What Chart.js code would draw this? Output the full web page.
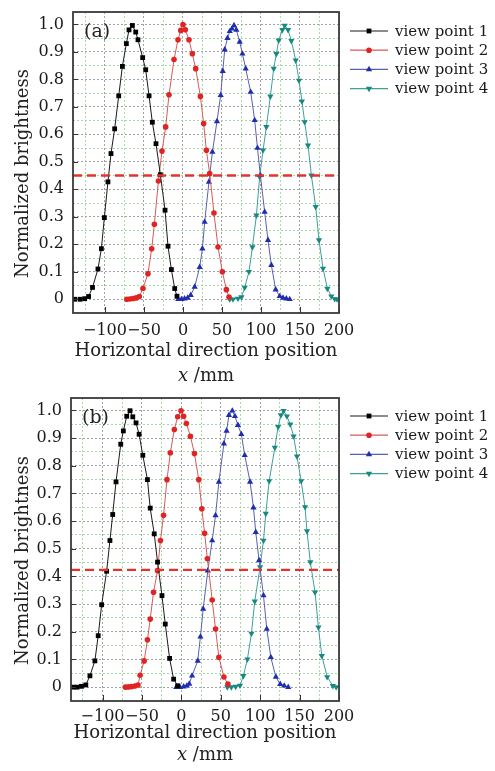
<!DOCTYPE html>
<html>
<head>
<meta charset="utf-8">
<script src="https://cdn.jsdelivr.net/npm/chart.js@4.4.0/dist/chart.umd.min.js"></script>
<style>
  html, body { margin: 0; padding: 0; background: #fff; }
  .panel { position: relative; width: 495px; }
</style>
</head>
<body>
<div class="panel" style="height:385px"><canvas id="chartA" width="495" height="385"></canvas></div>
<div class="panel" style="height:386px"><canvas id="chartB" width="495" height="386"></canvas></div>
<script>
// Brightness profiles of the four view points

const seriesNames = ['view point 1', 'view point 2', 'view point 3', 'view point 4'];
const xTickValues = [-125, -100, -75, -50, -25, 0, 25, 50, 75, 100, 125, 150, 175, 200];
const yTickValues = [0, 0.05, 0.1, 0.15, 0.2, 0.25, 0.3, 0.35, 0.4, 0.45, 0.5,
                     0.55, 0.6, 0.65, 0.7, 0.75, 0.8, 0.85, 0.9, 0.95, 1.0];

// panel (a)
const aBlackX = [-139, -132, -126, -121, -116, -109, -104.6, -100.8, -96.2, -92.3, -87.6, -82.4, -77.7, -72.6, -69.2, -64.9, -60.6, -57.7, -51.7, -47.8, -43.5, -39.3, -34.6, -29, -23, -19.2, -14.9, -10.6, -7.7];
const aBlackY = [0, 0, 0.002, 0.01, 0.043, 0.11, 0.184, 0.297, 0.427, 0.53, 0.62, 0.74, 0.847, 0.93, 0.98, 0.996, 0.972, 0.944, 0.879, 0.835, 0.74, 0.644, 0.566, 0.453, 0.324, 0.193, 0.108, 0.039, 0.011];
const aRedX = [-72, -68, -64, -60, -56, -51.3, -44.9, -40.1, -36.7, -31.5, -26.9, -22.2, -17.9, -11.5, -6.4, -2.9, 0, 3, 7.7, 12, 16.3, 22.3, 26.5, 30, 34.2, 39.7, 44.9, 50.5, 55.6, 59];
const aRedY = [0, 0.001, 0.003, 0.005, 0.01, 0.039, 0.093, 0.184, 0.273, 0.43, 0.539, 0.627, 0.744, 0.872, 0.944, 0.978, 0.999, 0.98, 0.944, 0.893, 0.839, 0.738, 0.639, 0.542, 0.457, 0.314, 0.19, 0.1, 0.035, 0.008];
const aBlueX = [-6, -2, 2, 6, 9.9, 15, 21.4, 24.9, 27.8, 33.3, 37.7, 43.6, 48.3, 51, 53.5, 57, 60, 62.8, 65.4, 68.4, 72.7, 76.2, 80.4, 86.8, 91.9, 95.5, 99.2, 104.7, 109, 113.3, 118.8, 124, 128.2, 132.5, 136.8];
const aBlueY = [0, 0, 0.002, 0.005, 0.015, 0.045, 0.117, 0.184, 0.281, 0.427, 0.536, 0.647, 0.742, 0.83, 0.908, 0.95, 0.975, 0.984, 0.996, 0.98, 0.936, 0.893, 0.839, 0.754, 0.651, 0.55, 0.451, 0.318, 0.215, 0.124, 0.035, 0.011, 0.005, 0.002, 0];
const aTealX = [59.9, 64.1, 70.5, 74.9, 79.1, 84.6, 89, 94.1, 98.3, 102.6, 106.9, 112, 116.3, 119.7, 122.7, 127.4, 130.4, 134.7, 138.9, 144.5, 148.7, 152.5, 156, 160.3, 164.6, 170.1, 174.4, 179.5, 185.1, 190.2, 194.5, 197.5];
const aTealY = [0, 0, 0.003, 0.008, 0.043, 0.1, 0.19, 0.305, 0.445, 0.542, 0.627, 0.738, 0.839, 0.893, 0.942, 0.98, 0.996, 0.98, 0.94, 0.869, 0.796, 0.72, 0.645, 0.56, 0.451, 0.336, 0.215, 0.112, 0.039, 0.011, 0.001, 0];
const aThreshold = 0.45;

// panel (b)
const bBlackX = [-137.4, -132.3, -126.7, -121.2, -116, -109.7, -105.5, -101.1, -94.8, -90.6, -87.1, -82.9, -76.9, -73.6, -69.3, -65.1, -61.6, -57.5, -53.6, -48.9, -43, -39.5, -34.4, -30.2, -24.6, -20.4, -14.9, -9.8, -4.7];
const bBlackY = [0, 0, 0.003, 0.008, 0.041, 0.095, 0.186, 0.298, 0.419, 0.53, 0.624, 0.742, 0.878, 0.926, 0.979, 0.999, 0.977, 0.955, 0.914, 0.838, 0.75, 0.647, 0.554, 0.452, 0.331, 0.228, 0.104, 0.029, 0.005];
const bRedX = [-71, -67, -63, -59, -55, -52.3, -47.2, -43, -39.5, -35.3, -30.2, -26.5, -22.6, -18.2, -14, -8.9, -4.7, -0.4, 2.9, 6.4, 11.5, 16.6, 22.1, 26, 29.5, 33, 39.1, 43.4, 47.6, 54, 59.1];
const bRedY = [0, 0.001, 0.002, 0.004, 0.008, 0.043, 0.095, 0.171, 0.246, 0.343, 0.421, 0.53, 0.621, 0.75, 0.847, 0.931, 0.977, 0.999, 0.979, 0.953, 0.907, 0.844, 0.75, 0.645, 0.556, 0.464, 0.315, 0.21, 0.108, 0.037, 0.011];
const bBlueX = [-6.4, -1.7, 3, 7, 10, 13.6, 20.8, 24.2, 27.7, 33.6, 39.1, 43.4, 47.6, 54, 57.4, 60.4, 64.7, 68, 71.8, 76.1, 80.4, 87.2, 91.5, 94.4, 98.6, 104.2, 108.4, 113.5, 119.9, 125.4, 130.5, 135.6];
const bBlueY = [0, 0, 0.002, 0.005, 0.012, 0.041, 0.095, 0.182, 0.283, 0.421, 0.53, 0.621, 0.742, 0.88, 0.926, 0.983, 0.999, 0.979, 0.947, 0.914, 0.838, 0.742, 0.649, 0.56, 0.458, 0.331, 0.21, 0.108, 0.037, 0.011, 0.005, 0];
const bTealX = [58.3, 63.4, 68.9, 74.4, 78.7, 83.8, 88.9, 93.1, 99.9, 104.2, 107.1, 111.4, 118.6, 122.8, 126.3, 129.7, 133.9, 138.1, 142.4, 146.7, 152, 156.9, 159.4, 163.6, 169.6, 173.9, 178.2, 185, 192.2, 196.4];
const bTealY = [0, 0, 0.002, 0.006, 0.041, 0.101, 0.194, 0.31, 0.434, 0.53, 0.627, 0.745, 0.866, 0.941, 0.983, 0.999, 0.979, 0.95, 0.907, 0.834, 0.745, 0.651, 0.564, 0.452, 0.343, 0.216, 0.113, 0.037, 0.005, 0];
const bThreshold = 0.424;

// estilos das séries
const pointColors = ['#000000', '#e02424', '#1f2eb0', '#168a80'];
const lineColors = ['#1a1a1a', '#d65a5a', '#5a60aa', '#3fa097'];
const pointStyles = ['rect', 'circle', 'triangle', 'triangle'];
const pointRotations = [0, 0, 0, 180];
const pointRadii = [3.4, 2.8, 3.6, 3.6];

const SERIF = '"DejaVu Serif", "Liberation Serif", serif';
const GRAY_GRID = '#a2a2a2';
const GREEN_GRID = '#a8daa8';

function isMajor(v, step) {
    const r = v / step;
    return Math.abs(r - Math.round(r)) < 1e-6;
}

function toPoints(xs, ys) {
    return xs.map((x, i) => ({ x: x, y: ys[i] }));
}

// desenha um marcador simples para a legenda
function drawMarker(ctx, style, rotation, r, x, y, color) {
    ctx.save();
    ctx.fillStyle = color;
    ctx.translate(x, y);
    ctx.rotate(rotation * Math.PI / 180);
    ctx.beginPath();
    if (style === 'rect') {
        const s = r * Math.SQRT1_2;
        ctx.rect(-s, -s, 2 * s, 2 * s);
    } else if (style === 'circle') {
        ctx.arc(0, 0, r, 0, Math.PI * 2);
    } else {
        ctx.moveTo(0, -r);
        ctx.lineTo(r * 0.87, r * 0.5);
        ctx.lineTo(-r * 0.87, r * 0.5);
        ctx.closePath();
    }
    ctx.fill();
    ctx.restore();
}

// moldura, ticks internos, títulos e legenda
const decorPlugin = {
    id: 'decor',
    afterDraw(chart, args, opts) {
        const ctx = chart.ctx;
        const area = chart.chartArea;
        const xs = chart.scales.x;
        const ys = chart.scales.y;
        ctx.save();

        // ticks para dentro
        ctx.strokeStyle = '#333';
        ctx.lineWidth = 1;
        ctx.beginPath();
        xTickValues.forEach(v => {
            if (!isMajor(v, 50)) return;
            const px = Math.round(xs.getPixelForValue(v)) + 0.5;
            ctx.moveTo(px, area.bottom);
            ctx.lineTo(px, area.bottom - 6);
        });
        yTickValues.forEach(v => {
            if (!isMajor(v, 0.1)) return;
            const py = Math.round(ys.getPixelForValue(v)) + 0.5;
            ctx.moveTo(area.left, py);
            ctx.lineTo(area.left + 5, py);
        });
        ctx.stroke();

        // moldura
        ctx.strokeStyle = '#3a3a3a';
        ctx.lineWidth = 1.8;
        ctx.strokeRect(area.left, area.top, area.right - area.left, area.bottom - area.top);

        // rótulo do painel
        ctx.fillStyle = '#222';
        ctx.font = '19px ' + SERIF;
        ctx.textAlign = 'left';
        ctx.textBaseline = 'middle';
        ctx.fillText(opts.panel, area.left + 11, area.top + 20);

        // título do eixo y
        ctx.save();
        ctx.translate(opts.yTitleX, (area.top + area.bottom) / 2 + 11);
        ctx.rotate(-Math.PI / 2);
        ctx.textAlign = 'center';
        ctx.font = '18px ' + SERIF;
        ctx.fillText('Normalized brightness', 0, 0);
        ctx.restore();

        // título do eixo x (duas linhas)
        const cx = (area.left + area.right) / 2;
        ctx.textAlign = 'center';
        ctx.font = '18px ' + SERIF;
        ctx.fillText('Horizontal direction position', cx, area.bottom + opts.xTitle1);
        ctx.font = 'italic 18px ' + SERIF;
        const wItal = ctx.measureText('x').width;
        ctx.font = '18px ' + SERIF;
        const wRest = ctx.measureText(' /mm').width;
        const start = cx - (wItal + wRest) / 2;
        ctx.textAlign = 'left';
        ctx.font = 'italic 18px ' + SERIF;
        ctx.fillText('x', start, area.bottom + opts.xTitle2);
        ctx.font = '18px ' + SERIF;
        ctx.fillText(' /mm', start + wItal, area.bottom + opts.xTitle2);

        // legenda
        ctx.font = '15px ' + SERIF;
        seriesNames.forEach((name, i) => {
            const y = 31 + i * 19.2;
            ctx.strokeStyle = lineColors[i];
            ctx.lineWidth = 1.2;
            ctx.beginPath();
            ctx.moveTo(350, y);
            ctx.lineTo(388, y);
            ctx.stroke();
            drawMarker(ctx, pointStyles[i], pointRotations[i], pointRadii[i], 369, y, pointColors[i]);
            ctx.fillStyle = '#1a1a1a';
            ctx.textAlign = 'left';
            ctx.fillText(name, 395, y + 1);
        });
        ctx.restore();
    }
};

function makeChart(canvasId, xsList, ysList, threshold, geo) {
    const canvas = document.getElementById(canvasId);
    if (!canvas) {
        console.error('Canvas not found: ' + canvasId);
        return null;
    }
    const datasets = seriesNames.map((name, i) => ({
        label: name,
        data: toPoints(xsList[i], ysList[i]),
        borderColor: lineColors[i],
        borderWidth: 1,
        backgroundColor: pointColors[i],
        pointBackgroundColor: pointColors[i],
        pointBorderWidth: 0,
        pointStyle: pointStyles[i],
        pointRotation: pointRotations[i],
        pointRadius: pointRadii[i],
        tension: 0,
        order: 2
    }));
    // linha tracejada de limiar
    datasets.push({
        label: 'threshold',
        data: [{ x: geo.xMin, y: threshold }, { x: 200, y: threshold }],
        borderColor: '#e3342c',
        borderWidth: 2.4,
        borderDash: [9, 5],
        pointRadius: 0,
        order: 1
    });

    return new Chart(canvas.getContext('2d'), {
        type: 'line',
        data: { datasets: datasets },
        options: {
            responsive: false,
            animation: false,
            layout: { padding: { top: geo.top, right: 495 - geo.right, left: 0, bottom: 0 } },
            plugins: {
                legend: { display: false },
                tooltip: { enabled: false },
                decor: { panel: geo.panel, yTitleX: 23, xTitle1: geo.xTitle1, xTitle2: geo.xTitle2 }
            },
            scales: {
                x: {
                    type: 'linear',
                    min: geo.xMin,
                    max: 200,
                    afterBuildTicks: s => { s.ticks = xTickValues.map(v => ({ value: v })); },
                    afterFit: s => {
                        s.height = geo.height - geo.bottom;
                        s.paddingLeft = 0;
                        s.paddingRight = 0;
                    },
                    grid: {
                        drawTicks: false,
                        lineWidth: 1,
                        color: c => (c.tick && isMajor(c.tick.value, 50)) ? GRAY_GRID : GREEN_GRID
                    },
                    border: { display: false, dash: [2, 2] },
                    ticks: {
                        autoSkip: false,
                        maxRotation: 0,
                        padding: geo.tickPad,
                        color: '#1a1a1a',
                        font: { family: SERIF, size: 16 },
                        callback: v => isMajor(v, 50) ? (v < 0 ? '\u2212' + Math.abs(v) : String(v)) : ''
                    }
                },
                y: {
                    type: 'linear',
                    min: -0.05,
                    max: 1.045,
                    afterBuildTicks: s => { s.ticks = yTickValues.map(v => ({ value: v })); },
                    afterFit: s => {
                        s.width = geo.left;
                        s.paddingTop = 0;
                        s.paddingBottom = 0;
                    },
                    grid: {
                        drawTicks: false,
                        lineWidth: 1,
                        color: c => (c.tick && isMajor(c.tick.value, 0.1)) ? GRAY_GRID : GREEN_GRID
                    },
                    border: { display: false, dash: [2, 2] },
                    ticks: {
                        autoSkip: false,
                        padding: 9,
                        color: '#1a1a1a',
                        font: { family: SERIF, size: 16 },
                        callback: v => {
                            if (!isMajor(v, 0.1)) return '';
                            return Math.abs(v) < 1e-9 ? '0' : v.toFixed(1);
                        }
                    }
                }
            }
        },
        plugins: [decorPlugin]
    });
}

const chartA = makeChart('chartA',
    [aBlackX, aRedX, aBlueX, aTealX],
    [aBlackY, aRedY, aBlueY, aTealY],
    aThreshold,
    { panel: '(a)', height: 385, top: 12, bottom: 313, left: 73, right: 339, xMin: -141, tickPad: 8, xTitle1: 38, xTitle2: 63 });

const chartB = makeChart('chartB',
    [bBlackX, bRedX, bBlueX, bTealX],
    [bBlackY, bRedY, bBlueY, bTealY],
    bThreshold,
    { panel: '(b)', height: 386, top: 13, bottom: 316, left: 71, right: 339, xMin: -140, tickPad: 6, xTitle1: 32, xTitle2: 54 });
</script>
</body>
</html>
